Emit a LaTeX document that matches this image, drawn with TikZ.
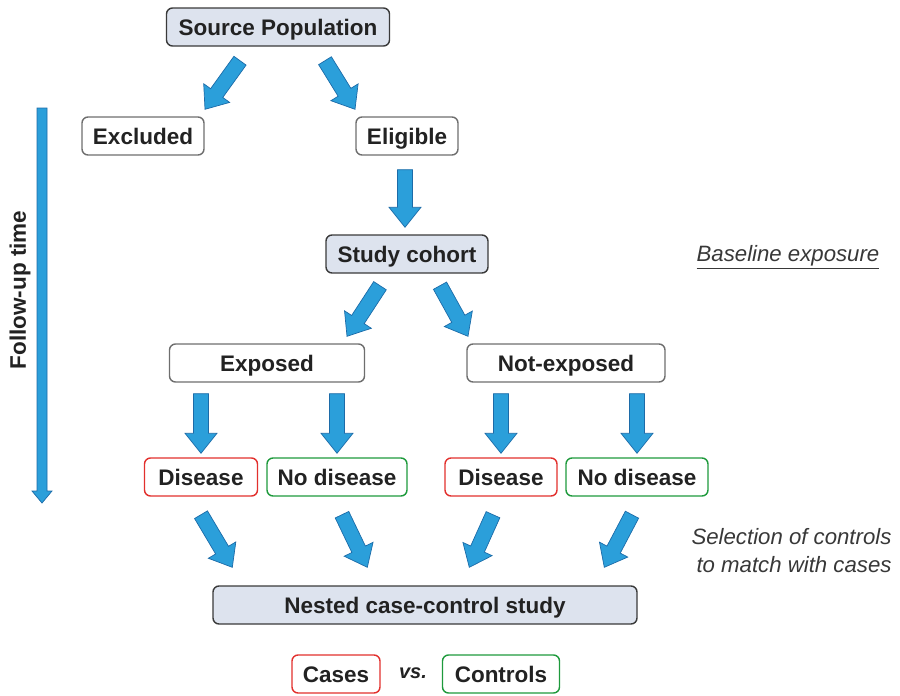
\documentclass[tikz,border=0pt]{standalone}
\usepackage{fontspec}
\setmainfont{Liberation Sans}
\usetikzlibrary{calc}
\definecolor{bfill}{HTML}{2B9FDA}
\definecolor{bline}{HTML}{1C6BA8}
\definecolor{gfill}{HTML}{DDE3EE}
\definecolor{gline}{HTML}{3A3A3A}
\definecolor{lline}{HTML}{6E6E6E}
\definecolor{rline}{HTML}{E2302D}
\definecolor{cline}{HTML}{1E9A3C}
\definecolor{txt}{HTML}{222222}
\newcommand\barrow[5]{%
  \coordinate (ba-h) at ($(#2)!#5!(#1)$);
  \draw[arrowst] ($(#1)!#3!90:(#2)$) -- ($(ba-h)!#3!-90:(#1)$) -- ($(ba-h)!#4!-90:(#1)$) -- (#2)
    -- ($(ba-h)!#4!90:(#1)$) -- ($(ba-h)!#3!90:(#1)$) -- ($(#1)!#3!-90:(#2)$) -- cycle;}
\begin{document}
\begin{tikzpicture}[x=1pt,y=-1pt,
  every node/.style={font=\fontsize{22.5}{26}\selectfont\bfseries, text=txt},
  box/.style={draw, rounded corners=6pt, line width=1.4pt, minimum height=38pt, inner xsep=8pt, text height=16pt, text depth=0pt},
  grey/.style={box, draw=gline, fill=gfill},
  white/.style={box, draw=lline, fill=white},
  red/.style={box, draw=rline, fill=white},
  grn/.style={box, draw=cline, fill=white},
  note/.style={font=\fontsize{22.2}{28}\selectfont\itshape, text=txt!90!white},
  arrowst/.style={fill=bfill, draw=bline, line width=0.7pt, line join=miter}]
\path[use as bounding box] (0,0) rectangle (900,696);

\node[grey, minimum width=223pt] (src) at (278,27) {Source Population};
\node[white, minimum width=122pt] (exc) at (143,136) {Excluded};
\node[white, minimum width=102pt] (eli) at (407,136) {Eligible};
\node[grey, minimum width=162pt] (coh) at (407,254) {Study cohort};
\node[white, minimum width=195pt] (exp) at (267,363) {Exposed};
\node[white, minimum width=198pt] (nexp) at (566,363) {Not-exposed};
\node[red, minimum width=113pt] (d1) at (201,477) {Disease};
\node[grn, minimum width=140pt] (n1) at (337,477) {No disease};
\node[red, minimum width=112pt] (d2) at (501,477) {Disease};
\node[grn, minimum width=142pt] (n2) at (637,477) {No disease};
\node[grey, minimum width=424pt] (ncc) at (425,605) {Nested case-control study};
\node[red, minimum width=88pt] (cas) at (336,674) {Cases};
\node[font=\fontsize{20}{24}\selectfont\bfseries\itshape] (vs) at (413,673) {vs.};
\node[grn, minimum width=117pt] (con) at (501,674) {Controls};

\node[note] (base) at (788,257) {\underline{Baseline exposure}};
\node[note, align=right, anchor=east] (sel) at (895,551) {Selection of controls\\to match with cases};
\node[rotate=90] (fut) at (20,290) {Follow-up time};

% timeline
\coordinate (t0) at (42,108);
\coordinate (t1) at (42,503);
\barrow{t0}{t1}{5pt}{10pt}{12pt}

% block arrows
\coordinate (a1s) at ($(src.south)+(-38,14)$);
\coordinate (a1e) at ($(exc.north)+(62,-7)$);
\barrow{a1s}{a1e}{7.5pt}{16pt}{20pt}
\coordinate (a2s) at ($(src.south)+(47,14)$);
\coordinate (a2e) at ($(eli.north)+(-52,-7)$);
\barrow{a2s}{a2e}{7.5pt}{16pt}{20pt}
\coordinate (a3s) at ($(eli.south)+(-2,14)$);
\coordinate (a3e) at ($(coh.north)+(-2,-7)$);
\barrow{a3s}{a3e}{7.5pt}{16pt}{20pt}
\coordinate (a4s) at ($(coh.south)+(-27,12)$);
\coordinate (a4e) at ($(exp.north)+(80,-7)$);
\barrow{a4s}{a4e}{7.5pt}{16pt}{20pt}
\coordinate (a5s) at ($(coh.south)+(33,12)$);
\coordinate (a5e) at ($(nexp.north)+(-98,-7)$);
\barrow{a5s}{a5e}{7.5pt}{16pt}{20pt}
\coordinate (a6s) at ($(exp.south)+(-66,11)$);
\coordinate (a6e) at ($(d1.north)+(0,-4)$);
\barrow{a6s}{a6e}{7.5pt}{16pt}{20pt}
\coordinate (a7s) at ($(exp.south)+(70,11)$);
\coordinate (a7e) at ($(n1.north)+(0,-4)$);
\barrow{a7s}{a7e}{7.5pt}{16pt}{20pt}
\coordinate (a8s) at ($(nexp.south)+(-65,11)$);
\coordinate (a8e) at ($(d2.north)+(0,-4)$);
\barrow{a8s}{a8e}{7.5pt}{16pt}{20pt}
\coordinate (a9s) at ($(nexp.south)+(71,11)$);
\coordinate (a9e) at ($(n2.north)+(0,-4)$);
\barrow{a9s}{a9e}{7.5pt}{16pt}{20pt}
\coordinate (b1s) at ($(d1.south)+(0,18)$);
\coordinate (b1e) at ($(ncc.north west)+(20,-18)$);
\barrow{b1s}{b1e}{7.5pt}{16pt}{20pt}
\coordinate (b2s) at ($(n1.south)+(5,18)$);
\coordinate (b2e) at ($(ncc.north west)+(155,-18)$);
\barrow{b2s}{b2e}{7.5pt}{16pt}{20pt}
\coordinate (b3s) at ($(d2.south)+(-8,18)$);
\coordinate (b3e) at ($(ncc.north west)+(257,-18)$);
\barrow{b3s}{b3e}{7.5pt}{16pt}{20pt}
\coordinate (b4s) at ($(n2.south)+(-5,18)$);
\coordinate (b4e) at ($(ncc.north west)+(392,-18)$);
\barrow{b4s}{b4e}{7.5pt}{16pt}{20pt}
\end{tikzpicture}
\end{document}
